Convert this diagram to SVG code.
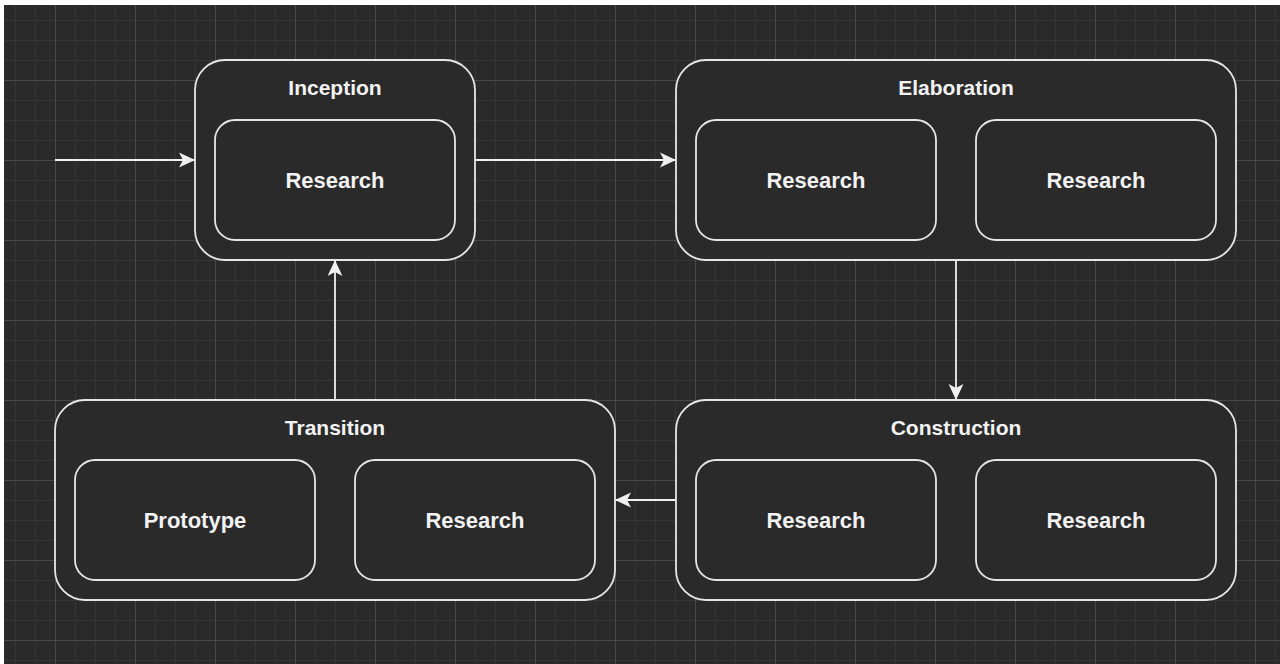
<svg xmlns="http://www.w3.org/2000/svg" width="1280" height="664" viewBox="0 0 1280 664">
  <defs>
    <pattern id="grid" patternUnits="userSpaceOnUse" x="55" y="0" width="80" height="80">
      <rect width="80" height="80" fill="#2a2a2a"/>
      <g fill="#363636">
        <rect x="20" y="0" width="1" height="80"/>
        <rect x="40" y="0" width="1" height="80"/>
        <rect x="60" y="0" width="1" height="80"/>
        <rect x="0" y="20" width="80" height="1"/>
        <rect x="0" y="40" width="80" height="1"/>
        <rect x="0" y="60" width="80" height="1"/>
      </g>
      <g fill="#484848">
        <rect x="0" y="0" width="1" height="80"/>
        <rect x="0" y="0" width="80" height="1"/>
      </g>
    </pattern>
    <marker id="arrow" markerUnits="userSpaceOnUse" markerWidth="16" markerHeight="16" viewBox="0 0 14 13" refX="14" refY="6.5" orient="auto">
      <path d="M0,0 L14,6.5 L0,13 L3.5,6.5 Z" fill="#f0f0f0"/>
    </marker>
  </defs>
  <style>
    .outer { fill: #2a2a2a; stroke: #e6e6e6; stroke-width: 1.8; }
    .inner { fill: #2a2a2a; stroke: #e6e6e6; stroke-width: 1.8; }
    .title { font-family: "Liberation Sans", Arial, sans-serif; font-size: 21px; font-weight: bold; fill: #f2f2f2; text-anchor: middle; }
    .label { font-family: "Liberation Sans", Arial, sans-serif; font-size: 22px; font-weight: bold; fill: #f2f2f2; text-anchor: middle; }
    .edge { fill: none; stroke: #f0f0f0; stroke-width: 1.8; marker-end: url(#arrow); }
  </style>
  <rect x="0" y="0" width="1280" height="664" fill="#ffffff"/>
  <rect x="4" y="5" width="1276" height="659" fill="url(#grid)"/>

  <g id="connectors">
    <line class="edge" x1="55" y1="160" x2="195" y2="160"/>
    <line class="edge" x1="475" y1="160" x2="676" y2="160"/>
    <line class="edge" x1="956" y1="260" x2="956" y2="400"/>
    <line class="edge" x1="676" y1="500" x2="615" y2="500"/>
    <line class="edge" x1="335" y1="400" x2="335" y2="260"/>
  </g>

  <g id="inception">
    <rect class="outer" x="195" y="60" width="280" height="200" rx="30"/>
    <text class="title" x="335" y="95">Inception</text>
    <g id="inception-research">
      <rect class="inner" x="215" y="120" width="240" height="120" rx="20"/>
      <text class="label" x="335" y="188">Research</text>
    </g>
  </g>

  <g id="elaboration">
    <rect class="outer" x="676" y="60" width="560" height="200" rx="30"/>
    <text class="title" x="956" y="95">Elaboration</text>
    <g id="elaboration-research-1">
      <rect class="inner" x="696" y="120" width="240" height="120" rx="20"/>
      <text class="label" x="816" y="188">Research</text>
    </g>
    <g id="elaboration-research-2">
      <rect class="inner" x="976" y="120" width="240" height="120" rx="20"/>
      <text class="label" x="1096" y="188">Research</text>
    </g>
  </g>

  <g id="transition">
    <rect class="outer" x="55" y="400" width="560" height="200" rx="30"/>
    <text class="title" x="335" y="435">Transition</text>
    <g id="transition-prototype">
      <rect class="inner" x="75" y="460" width="240" height="120" rx="20"/>
      <text class="label" x="195" y="528">Prototype</text>
    </g>
    <g id="transition-research">
      <rect class="inner" x="355" y="460" width="240" height="120" rx="20"/>
      <text class="label" x="475" y="528">Research</text>
    </g>
  </g>

  <g id="construction">
    <rect class="outer" x="676" y="400" width="560" height="200" rx="30"/>
    <text class="title" x="956" y="435">Construction</text>
    <g id="construction-research-1">
      <rect class="inner" x="696" y="460" width="240" height="120" rx="20"/>
      <text class="label" x="816" y="528">Research</text>
    </g>
    <g id="construction-research-2">
      <rect class="inner" x="976" y="460" width="240" height="120" rx="20"/>
      <text class="label" x="1096" y="528">Research</text>
    </g>
  </g>
</svg>
